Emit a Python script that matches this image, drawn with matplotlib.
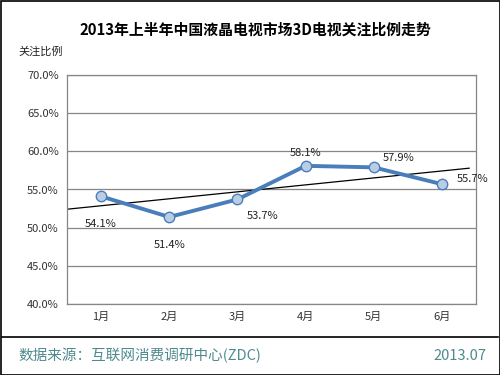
import matplotlib
matplotlib.use("Agg")
import matplotlib.pyplot as plt
import numpy as np
from matplotlib.lines import Line2D
from matplotlib.patches import Rectangle

plt.rcParams['font.family'] = ['Noto Sans CJK SC', 'DejaVu Sans']

months = ["1月", "2月", "3月", "4月", "5月", "6月"]
values = [54.1, 51.4, 53.7, 58.1, 57.9, 55.7]
yticks = [40, 45, 50, 55, 60, 65, 70]
title = "2013年上半年中国液晶电视市场3D电视关注比例走势"
ylabel = "关注比例"
source = "数据来源：互联网消费调研中心(ZDC)"
date = "2013.07"

W, H = 500, 375
fig = plt.figure(figsize=(W/100, H/100), dpi=100)
ax = fig.add_axes([67/W, 1-304/H, (476-67)/W, (304-75)/H])

x = np.arange(len(months))
ax.plot(x, values, color="#4a7ebb", lw=2.8, marker="o", ms=7.5,
        mfc="#b9cde5", mec="#4a7ebb", mew=1.0, zorder=3)

# linear trend line
k, b = np.polyfit(x, values, 1)
xt = np.array([-0.5, len(months) - 0.6])
ax.plot(xt, k*xt + b, color="black", lw=0.9, zorder=2)

offsets = [(0, -20), (0, -20), (18, -12), (0, 9), (18, 7), (22, 4)]
for xi, v, (dx, dy) in zip(x, values, offsets):
    ax.annotate(f"{v:.1f}%", (xi, v), xytext=(dx, dy), textcoords="offset points",
                ha="center", va="center", fontsize=8, color="#222222")

ax.set_xlim(-0.5, len(months) - 0.5)
ax.set_ylim(40, 70)
ax.set_yticks(yticks)
ax.set_yticklabels([f"{t:.1f}%" for t in yticks], fontsize=8, color="#333333")
ax.set_xticks(x)
ax.set_xticklabels(months, fontsize=8, color="#333333")
ax.tick_params(length=0, pad=6)
ax.grid(axis="y", color="#868686", lw=0.9)
ax.set_axisbelow(True)
for s in ax.spines.values():
    s.set_color("#868686")
    s.set_linewidth(0.9)

fig.text(255/W, 1-30/H, title, ha="center", va="center", fontsize=10.7, fontweight="bold")
fig.text(18/W, 1-52/H, ylabel, ha="left", va="center", fontsize=8, color="#222222")
fig.text(18/W, 1-356/H, source, ha="left", va="center", fontsize=10.5, color="#4e8a8e")
fig.text(486/W, 1-356/H, date, ha="right", va="center", fontsize=10.5, color="#4e8a8e")

fig.add_artist(Line2D([2/W, 498/W], [1-337/H, 1-337/H], color="black", lw=1.2))
fig.add_artist(Rectangle((0.5/W, 0.5/H), 1-1/W, 1-1/H, fill=False, ec="black", lw=1.2,
                         transform=fig.transFigure))

fig.savefig("out.png", dpi=100)
